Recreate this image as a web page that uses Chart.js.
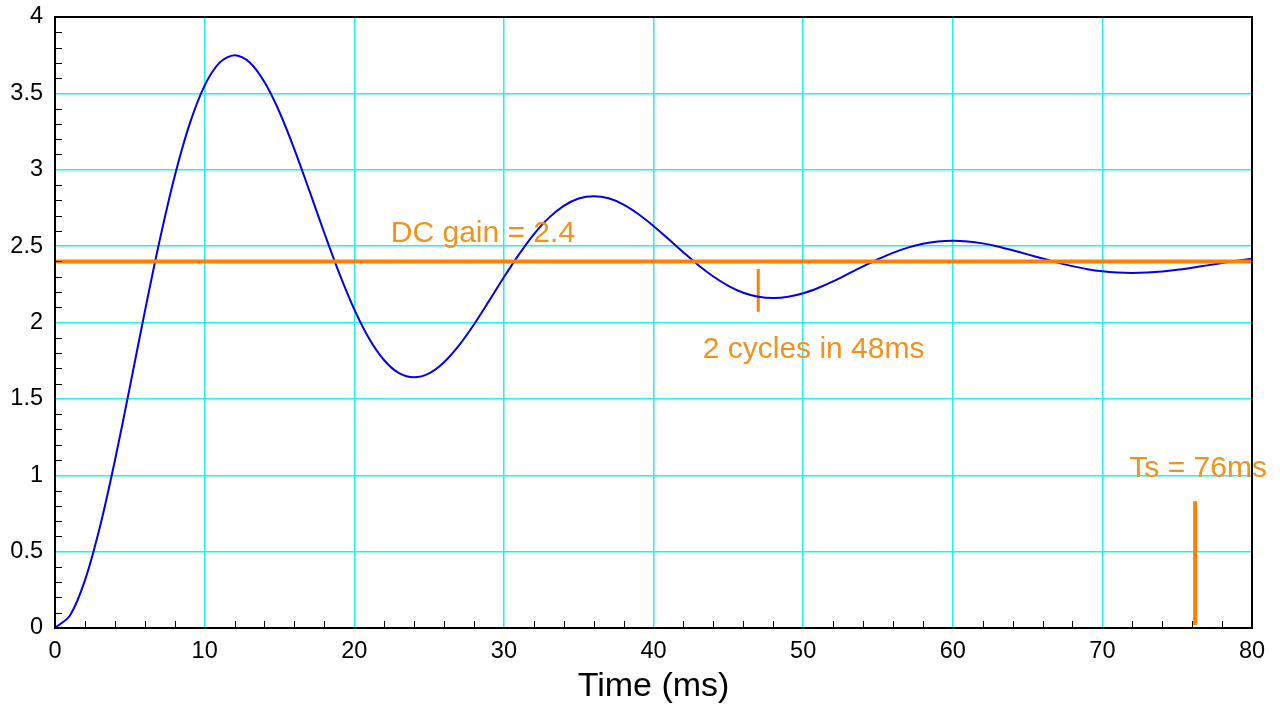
<!DOCTYPE html>
<html>
<head>
<meta charset="utf-8">
<script src="https://cdn.jsdelivr.net/npm/chart.js@4.4.1/dist/chart.umd.min.js"></script>
<style>
  html, body { margin: 0; padding: 0; background: #fff; }
  #wrap { width: 1280px; height: 704px; }
</style>
</head>
<body>
<div id="wrap"><canvas id="stepChart"></canvas></div>
<script>
// time axis (ms) and step response
const timeMs = [0,1,2,3,4,5,6,7,8,9,10,11,12,13,14,15,16,17,18,19,20,
  21,22,23,24,25,26,27,28,29,30,31,32,33,34,35,36,37,38,39,40,
  41,42,43,44,45,46,47,48,49,50,51,52,53,54,55,56,57,58,59,60,
  61,62,63,64,65,66,67,68,69,70,71,72,73,74,75,76,77,78,79,80];
const response = [0,0.082,0.312,0.661,1.095,1.577,2.070,2.540,2.958,3.300,3.551,
  3.701,3.750,3.704,3.574,3.378,3.134,2.863,2.586,2.321,2.086,
  1.894,1.753,1.668,1.641,1.667,1.740,1.850,1.987,2.140,2.296,
  2.444,2.577,2.685,2.764,2.812,2.827,2.813,2.772,2.709,2.632,
  2.546,2.459,2.375,2.301,2.240,2.195,2.169,2.160,2.168,2.191,
  2.226,2.269,2.318,2.367,2.414,2.456,2.490,2.515,2.530,2.535,
  2.531,2.518,2.498,2.473,2.446,2.419,2.392,2.369,2.349,2.335,
  2.327,2.324,2.327,2.334,2.345,2.359,2.374,2.390,2.405,2.418];

const dcGain = 2.4;
const dcLineX = [0, 80];
const cycleMarkX = 47;
const cycleMarkY = [2.35, 2.07];
const settleMarkX = 76.2;
const settleMarkY = [0.02, 0.83];

const xTicks = [0, 10, 20, 30, 40, 50, 60, 70, 80];
const yTicks = [0, 0.5, 1, 1.5, 2, 2.5, 3, 3.5, 4];

const notes = [
  { text: 'DC gain = 2.4', x: 28.6, y: 2.58 },
  { text: '2 cycles in 48ms', x: 50.7, y: 1.82 },
  { text: 'Ts = 76ms', x: 76.4, y: 1.04 }
];

const orange = '#ff8000';
const noteColor = '#f0921e';
const fontFam = '"Liberation Sans", Arial, Helvetica, sans-serif';

const frameAndNotes = {
  id: 'frameAndNotes',
  afterDraw(chart) {
    const { ctx, chartArea: a, scales: { x, y } } = chart;
    ctx.save();
    // minor ticks, inward
    ctx.strokeStyle = '#000';
    ctx.lineWidth = 1;
    ctx.beginPath();
    for (let v = 2; v < 80; v += 2) {
      if (v % 10 === 0) continue;
      const px = Math.round(x.getPixelForValue(v)) + 0.5;
      ctx.moveTo(px, a.bottom);
      ctx.lineTo(px, a.bottom - 7);
    }
    for (let i = 1; i < 40; i++) {
      if (i % 5 === 0) continue;
      const py = Math.round(y.getPixelForValue(i / 10)) + 0.5;
      ctx.moveTo(a.left, py);
      ctx.lineTo(a.left + 7, py);
    }
    ctx.stroke();
    // frame
    ctx.lineWidth = 2;
    ctx.strokeRect(a.left, a.top, a.right - a.left, a.bottom - a.top);
    // notes
    ctx.fillStyle = noteColor;
    ctx.font = '30px ' + fontFam;
    ctx.textAlign = 'center';
    ctx.textBaseline = 'middle';
    notes.forEach(n => {
      ctx.fillText(n.text, x.getPixelForValue(n.x), y.getPixelForValue(n.y));
    });
    ctx.restore();
  }
};

new Chart(document.getElementById('stepChart'), {
  type: 'line',
  data: {
    datasets: [
      {
        data: dcLineX.map(t => ({ x: t, y: dcGain })),
        borderColor: orange,
        borderWidth: 4,
        pointRadius: 0
      },
      {
        data: timeMs.map((t, i) => ({ x: t, y: response[i] })),
        borderColor: '#0000ee',
        borderWidth: 2,
        pointRadius: 0,
        tension: 0.3
      },
      {
        data: cycleMarkY.map(v => ({ x: cycleMarkX, y: v })),
        borderColor: orange,
        borderWidth: 3,
        pointRadius: 0
      },
      {
        data: settleMarkY.map(v => ({ x: settleMarkX, y: v })),
        borderColor: orange,
        borderWidth: 4,
        pointRadius: 0
      }
    ]
  },
  options: {
    responsive: true,
    maintainAspectRatio: false,
    animation: false,
    layout: { padding: { top: 17, right: 28, left: 0, bottom: 0 } },
    plugins: { legend: { display: false }, tooltip: { enabled: false } },
    scales: {
      x: {
        type: 'linear',
        min: 0,
        max: 80,
        afterBuildTicks: s => { s.ticks = xTicks.map(v => ({ value: v })); },
        afterFit: s => { s.height = 76; s.paddingLeft = 0; s.paddingRight = 0; },
        grid: { color: '#22f0f0', lineWidth: 1.5, drawTicks: false },
        border: { display: false },
        ticks: {
          color: '#000',
          padding: 9,
          maxRotation: 0,
          font: { family: fontFam, size: 23.5 }
        },
        title: {
          display: true,
          text: 'Time (ms)',
          color: '#000',
          font: { family: fontFam, size: 34, lineHeight: 1.05 },
          padding: { top: 0, bottom: 0 }
        }
      },
      y: {
        type: 'linear',
        min: 0,
        max: 4,
        afterBuildTicks: s => { s.ticks = yTicks.map(v => ({ value: v })); },
        afterFit: s => { s.width = 55; s.paddingTop = 0; s.paddingBottom = 0; },
        grid: { color: '#22f0f0', lineWidth: 1.5, drawTicks: false },
        border: { display: false },
        ticks: {
          color: '#000',
          padding: 12,
          font: { family: fontFam, size: 23.5 },
          callback: v => String(v)
        }
      }
    }
  },
  plugins: [frameAndNotes]
});
</script>
</body>
</html>
